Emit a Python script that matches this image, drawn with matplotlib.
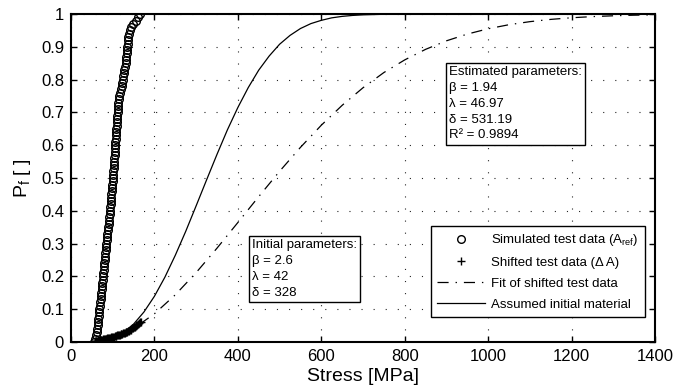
import matplotlib
matplotlib.use('Agg')
import matplotlib.pyplot as plt

plt.rcParams['font.family'] = ['Liberation Sans', 'DejaVu Sans']
plt.rcParams['mathtext.fontset'] = 'custom'
plt.rcParams['mathtext.rm'] = 'Liberation Sans'
plt.rcParams['mathtext.it'] = 'Liberation Sans:italic'
plt.rcParams['lines.scale_dashes'] = False

# simulated test data (A_ref): stress and failure probability
sim_p = [0.00, 0.01, 0.02, 0.03, 0.04, 0.05, 0.06, 0.07, 0.08, 0.09,
         0.10, 0.11, 0.12, 0.13, 0.14, 0.15, 0.16, 0.17, 0.18, 0.19,
         0.20, 0.21, 0.22, 0.23, 0.24, 0.25, 0.26, 0.27, 0.28, 0.29,
         0.30, 0.31, 0.32, 0.33, 0.34, 0.35, 0.36, 0.37, 0.38, 0.39,
         0.40, 0.41, 0.42, 0.43, 0.44, 0.45, 0.46, 0.47, 0.48, 0.49,
         0.50, 0.51, 0.52, 0.53, 0.54, 0.55, 0.56, 0.57, 0.58, 0.59,
         0.60, 0.61, 0.62, 0.63, 0.64, 0.65, 0.66, 0.67, 0.68, 0.69,
         0.70, 0.71, 0.72, 0.73, 0.74, 0.75, 0.76, 0.77, 0.78, 0.79,
         0.80, 0.81, 0.82, 0.83, 0.84, 0.85, 0.86, 0.87, 0.88, 0.89,
         0.90, 0.91, 0.92, 0.93, 0.94, 0.95, 0.96, 0.97, 0.98, 0.99, 1.00]
sim_x = [56, 58, 60, 62, 63.3, 64.1, 65, 65.8, 66.6, 67.4,
         68.3, 69.1, 70, 70.8, 71.7, 72.6, 73.4, 74.3, 75.1, 76,
         76.8, 77.6, 78.4, 79.2, 80, 80.8, 81.5, 82.3, 83.1, 83.9,
         84.7, 85.6, 86.5, 87.4, 88.2, 89.1, 90, 90.9, 91.7, 92.6,
         93.5, 94.2, 94.9, 95.6, 96.3, 97, 97.7, 98.4, 99.1, 99.8,
         100.5, 101.1, 101.6, 102.2, 102.8, 103.3, 103.9, 104.5, 105.1, 105.6,
         106.2, 106.7, 107.2, 107.8, 108.3, 108.9, 109.4, 110, 110.5, 111,
         111.6, 112.3, 113.1, 113.9, 114.8, 115.7, 118, 121, 122.5, 123.2,
         124.3, 125.5, 126.8, 128.1, 129.4, 130.7, 132, 132.8, 133.6, 134.4,
         135.2, 136, 136.8, 137.7, 138.6, 141.4, 144.8, 149.5, 155, 160, 165]

# shifted test data (delta A)
shift_x = [57, 59, 61, 63, 65, 67, 69, 71, 73, 75, 77, 79, 81, 83, 85,
           87, 89, 91, 93, 95, 97, 99, 101, 103, 105, 107, 109, 111, 113,
           115, 117, 119, 121, 123, 125, 127, 129, 131, 133, 135, 137, 139,
           141, 143, 145, 147, 149, 151, 153, 155, 157, 159, 161, 163, 165, 167]
shift_p = [0.001, 0.002, 0.003, 0.003, 0.004, 0.005, 0.006, 0.006, 0.007,
           0.007, 0.008, 0.008, 0.009, 0.010, 0.010, 0.011, 0.011, 0.012,
           0.013, 0.013, 0.014, 0.015, 0.015, 0.016, 0.017, 0.018, 0.019,
           0.020, 0.021, 0.021, 0.022, 0.023, 0.024, 0.025, 0.026, 0.027,
           0.028, 0.029, 0.030, 0.031, 0.033, 0.034, 0.036, 0.037, 0.039,
           0.041, 0.042, 0.044, 0.046, 0.048, 0.050, 0.052, 0.054, 0.056,
           0.059, 0.062]

# fit of shifted test data
fit_x = [47, 50, 100, 150, 200, 250, 300, 350, 400, 450, 500, 550, 600, 650,
         700, 750, 800, 850, 900, 950, 1000, 1050, 1100, 1150, 1200, 1250,
         1300, 1350, 1400]
fit_p = [0.0, 0.0, 0.0114, 0.0407, 0.0855, 0.1434, 0.2112, 0.2858, 0.364,
         0.4431, 0.5203, 0.5933, 0.6609, 0.7217, 0.7753, 0.8217, 0.8603,
         0.8925, 0.9185, 0.9391, 0.9553, 0.9677, 0.977, 0.9839, 0.9889,
         0.9924, 0.9949, 0.9967, 0.9978]

# assumed initial material
init_x = [42, 60, 75, 100, 125, 150, 175, 200, 225, 250, 275, 300, 325, 350,
          375, 400, 425, 450, 475, 500, 525, 550, 575, 600, 625, 650, 675,
          700, 750, 800, 1400]
init_p = [0.0, 0.0005, 0.0025, 0.011, 0.0277, 0.054, 0.0912, 0.139, 0.197,
          0.264, 0.337, 0.415, 0.494, 0.572, 0.647, 0.715, 0.776, 0.829,
          0.872, 0.908, 0.935, 0.956, 0.971, 0.981, 0.9886, 0.9931, 0.996,
          0.9978, 0.9995, 1.0, 1.0]

fig = plt.figure(figsize=(6.76, 3.92), dpi=100)
ax = fig.add_axes([0.105, 0.128, 0.864, 0.836])

ax.plot(sim_x, sim_p, 'o', mfc='none', mec='k', ms=5.5, mew=1.0,
        label='Simulated test data (A$_{\\mathrm{ref}}$)')
ax.plot(shift_x, shift_p, '+', color='k', ms=6, mew=1.0,
        label='Shifted test data (\u0394 A)')
ax.plot(fit_x, fit_p, color='k', lw=0.9, dashes=(8, 5, 1, 5),
        label='Fit of shifted test data')
ax.plot(init_x, init_p, color='k', lw=0.9, label='Assumed initial material')

ax.set_xlim(0, 1400)
ax.set_ylim(0, 1)
ax.set_xticks(range(0, 1401, 200))
ax.set_yticks([i / 10 for i in range(11)])
ax.set_yticklabels(['0', '0.1', '0.2', '0.3', '0.4', '0.5', '0.6', '0.7',
                    '0.8', '0.9', '1'])
ax.grid(True, color='0.15', lw=0.8, dashes=(0.8, 7.9))
ax.tick_params(direction='in', length=4, width=1, top=True, right=True,
               labelsize=12, pad=5)
for s in ax.spines.values():
    s.set_linewidth(1.5)

ax.set_xlabel('Stress [MPa]', fontsize=14, labelpad=3)
ax.set_ylabel('P$_{\\mathrm{f}}$ [ ]', fontsize=14, labelpad=6)

box = dict(boxstyle='square,pad=0.25', fc='white', ec='k', lw=1)
ax.text(0.310, 0.313, 'Initial parameters:\n\u03b2 = 2.6\n\u03bb = 42\n\u03b4 = 328',
        transform=ax.transAxes, fontsize=9.5, va='top', ha='left',
        linespacing=1.42, bbox=box, zorder=5)
ax.text(0.647, 0.841,
        'Estimated parameters:\n\u03b2 = 1.94\n\u03bb = 46.97\n\u03b4 = 531.19\nR\u00b2 = 0.9894',
        transform=ax.transAxes, fontsize=9.5, va='top', ha='left',
        linespacing=1.42, bbox=box, zorder=5)

leg = ax.legend(loc='lower right', bbox_to_anchor=(0.983, 0.075),
                fontsize=9.5, fancybox=False, framealpha=1, edgecolor='k',
                handlelength=3.6, handletextpad=0.5, labelspacing=0.65,
                borderpad=0.5, borderaxespad=0)
leg.get_frame().set_linewidth(1)

fig.savefig('out.png', dpi=100)
